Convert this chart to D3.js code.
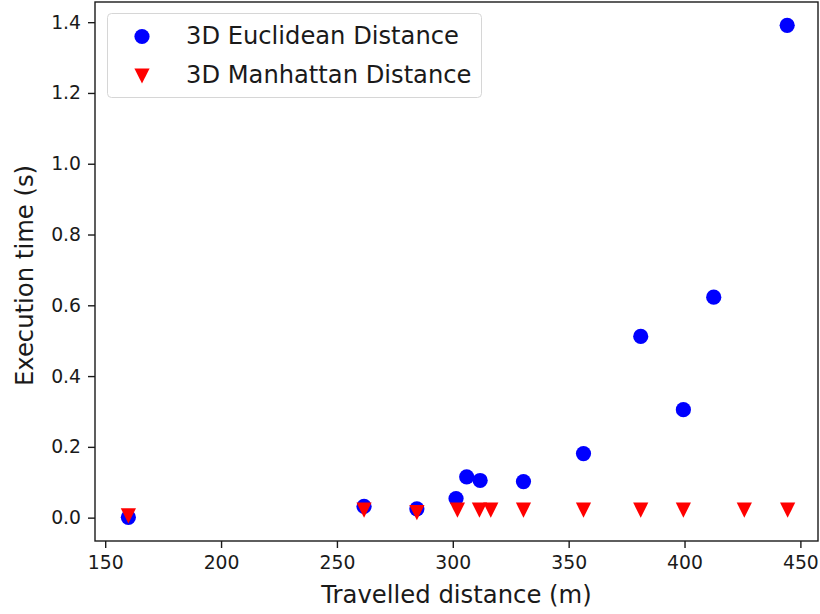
<!DOCTYPE html>
<html>
<head>
<meta charset="utf-8">
<script src="https://cdn.jsdelivr.net/npm/d3@7"></script>
<style>
  html, body { margin: 0; padding: 0; background: #fff; }
  svg { display: block; font-family: "DejaVu Sans", sans-serif; }
</style>
</head>
<body>
<div class="chart"></div>
<script>
// Euclidean series
const euclidX = [160, 261.7, 284.5, 301.4, 306.0, 311.8, 330.5, 356.4, 381.1, 399.5, 412.6, 444.3];
const euclidY = [0.001, 0.032, 0.025, 0.054, 0.115, 0.105, 0.102, 0.181, 0.512, 0.305, 0.623, 1.391];
// Manhattan series
const manhX = [160, 261.7, 284.5, 302.0, 311.5, 316.4, 330.5, 356.4, 381.1, 399.5, 425.8, 444.5];
const manhY = [0.005, 0.021, 0.014, 0.021, 0.021, 0.021, 0.021, 0.021, 0.021, 0.021, 0.021, 0.021];

const xTicks = [150, 200, 250, 300, 350, 400, 450];
const yTicks = [0.0, 0.2, 0.4, 0.6, 0.8, 1.0, 1.2, 1.4];
const seriesNames = ['3D Euclidean Distance', '3D Manhattan Distance'];

let w = 820,
    h = 614,
    pLeft = 95,
    pRight = 818,
    pTop = 2,
    pBottom = 541;

const svg = d3.select('.chart')
              .append('svg')
              .attr('width', w)
              .attr('height', h)

const xScale = d3.scaleLinear()
                 .domain([145.6, 457.6])
                 .range([pLeft, pRight])

const yScale = d3.scaleLinear()
                 .domain([-0.066, 1.457])
                 .range([pBottom, pTop])

const xAxis = d3.axisBottom(xScale)
                .tickValues(xTicks)
                .tickSize(7)
                .tickPadding(8)
                .tickFormat(d3.format('d'))

const yAxis = d3.axisLeft(yScale)
                .tickValues(yTicks)
                .tickSize(7)
                .tickPadding(7)
                .tickFormat(d3.format('.1f'))

const gx = svg.append('g')
   .attr('transform', `translate(0,${pBottom})`)
   .call(xAxis)
gx.select('.domain').remove()

const gy = svg.append('g')
   .attr('transform', `translate(${pLeft},0)`)
   .call(yAxis)
gy.select('.domain').remove()

svg.selectAll('.tick line').attr('stroke', '#1a1a1a').attr('stroke-width', 1.4)
svg.selectAll('.tick text')
   .attr('fill', '#1a1a1a')
   .style('font-size', '18.8px')
   .style('font-family', '"DejaVu Sans", sans-serif')

// frame
svg.append('rect')
   .attr('x', pLeft)
   .attr('y', pTop)
   .attr('width', pRight - pLeft)
   .attr('height', pBottom - pTop)
   .attr('fill', 'none')
   .attr('stroke', '#1a1a1a')
   .attr('stroke-width', 1.4)

// points
const euclid = euclidX.map((x, i) => [x, euclidY[i]])
const manh = manhX.map((x, i) => [x, manhY[i]])

const tri = (cx, cy, r) => `M${cx},${cy + r}L${cx - r},${cy - r}L${cx + r},${cy - r}Z`

svg.append('g')
   .selectAll('circle')
   .data(euclid)
   .enter()
   .append('circle')
   .attr('cx', d => xScale(d[0]))
   .attr('cy', d => yScale(d[1]))
   .attr('r', 7.6)
   .attr('fill', 'blue')

svg.append('g')
   .selectAll('path')
   .data(manh)
   .enter()
   .append('path')
   .attr('d', d => tri(xScale(d[0]), yScale(d[1]), 7.6))
   .attr('fill', 'red')

// legend
const lg = svg.append('g').attr('transform', 'translate(107,13)')
lg.append('rect')
  .attr('x', 0.5)
  .attr('y', 0.5)
  .attr('width', 374)
  .attr('height', 84)
  .attr('rx', 4)
  .attr('fill', 'white')
  .attr('fill-opacity', 0.8)
  .attr('stroke', '#d6d6d6')
  .attr('stroke-width', 1)

lg.append('circle')
  .attr('cx', 35)
  .attr('cy', 23.5)
  .attr('r', 7.6)
  .attr('fill', 'blue')

lg.append('path')
  .attr('d', tri(35, 63, 7.6))
  .attr('fill', 'red')

lg.selectAll('text')
  .data(seriesNames)
  .enter()
  .append('text')
  .attr('x', 79)
  .attr('y', (d, i) => 31 + i * 38.5)
  .attr('fill', '#1a1a1a')
  .style('font-size', '24.2px')
  .text(d => d)

// axis labels
svg.append('text')
   .attr('x', (pLeft + pRight) / 2)
   .attr('y', 603)
   .attr('text-anchor', 'middle')
   .attr('fill', '#1a1a1a')
   .style('font-size', '24.3px')
   .text('Travelled distance (m)')

svg.append('text')
   .attr('transform', `translate(33,${(pTop + pBottom) / 2 + 4}) rotate(-90)`)
   .attr('text-anchor', 'middle')
   .attr('fill', '#1a1a1a')
   .style('font-size', '24.3px')
   .text('Execution time (s)')
</script>
</body>
</html>
